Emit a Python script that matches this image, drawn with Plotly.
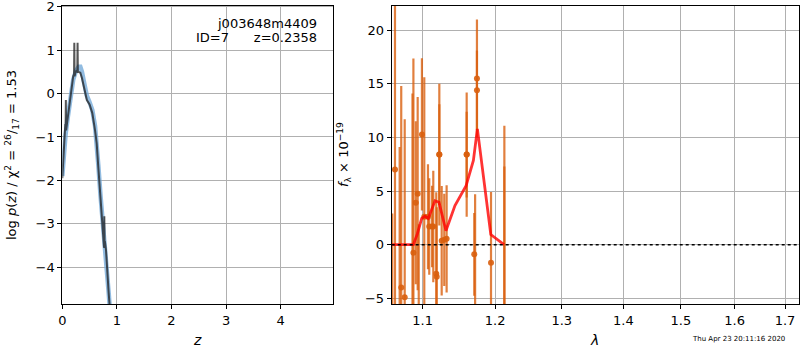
import plotly.graph_objects as go
import math

# ---- Left panel: p(z) ----
z_smooth = [0.00, 0.03, 0.06, 0.10, 0.15, 0.20, 0.25, 0.30, 0.33, 0.36, 0.40, 0.45, 0.50,
            0.55, 0.60, 0.63, 0.66, 0.70, 0.74, 0.78, 0.82, 0.85, 0.88]
logp_smooth = [-1.9, -1.35, -0.95, -0.55, -0.05, 0.32, 0.52, 0.62, 0.62, 0.5, 0.25, -0.05, -0.2,
               -0.38, -0.75, -1.1, -1.65, -2.35, -3.05, -3.55, -4.15, -4.6, -5.1]

z_grid = [0.00, 0.03, 0.05, 0.055, 0.06, 0.065, 0.07, 0.075, 0.09, 0.12, 0.15, 0.18, 0.20,
          0.215, 0.22, 0.225, 0.24, 0.26, 0.275, 0.28, 0.285, 0.30, 0.33, 0.36, 0.40, 0.45,
          0.50, 0.55, 0.60, 0.63, 0.66, 0.70, 0.74, 0.765, 0.77, 0.775, 0.78, 0.80, 0.82, 0.85, 0.88]
logp_grid = [-1.95, -1.35, -1.0, -0.7, -0.85, -0.15, -0.85, -0.8, -0.65, -0.35, 0.0, 0.3, 0.4,
             0.45, 1.17, 0.4, 0.48, 0.52, 0.5, 1.17, 0.5, 0.5, 0.48, 0.36, 0.12, -0.15,
             -0.25, -0.45, -0.85, -1.15, -1.7, -2.4, -3.1, -3.55, -2.83, -3.56, -3.4, -3.6, -4.15, -4.6, -5.1]

# ---- Right panel: spectrum ----
lam_obs = [1.0605, 1.0640, 1.0700, 1.0720, 1.0765, 1.0866, 1.0878, 1.0909, 1.0934, 1.0948,
           1.0990, 1.1021, 1.1070, 1.1087, 1.1125, 1.1141, 1.1181, 1.1187, 1.1222, 1.1222,
           1.1254, 1.1289, 1.1321, 1.1597, 1.1597, 1.1703, 1.1715, 1.1741, 1.1741, 1.1941,
           1.2134, 1.2134]
flux_obs = [-8.5, 7.0, -6.5, -4.0, -4.9, -6.0, -0.75, 3.9, 4.76, -7.0,
            10.28, 2.6, 2.6, 1.7, 1.7, 1.7, -2.7, -3.0, 8.4, 8.4,
            0.36, 0.45, 0.55, 8.4, 8.4, -0.9, -6.0, 15.5, 14.4, -1.68,
            -7.0, -6.0]
err_obs = [11.4, 17.0, 15.6, 18.8, 16.6, 20.1, 18.1, 7.6, 9.0, 8.9,
           7.1, 13.0, 4.9, 4.5, 3.8, 5.2, 7.6, 6.5, 6.6, 4.7,
           5.1, 4.3, 5.0, 5.8, 4.0, 3.85, 10.7, 5.5, 3.7, 6.6,
           18.1, 13.3]

lam_model = [1.0603, 1.0877, 1.0929, 1.0987, 1.1030, 1.1074, 1.1164, 1.1218, 1.1312,
             1.1435, 1.1589, 1.1691, 1.1747, 1.1938, 1.2130]
flux_model = [0.0, 0.0, 1.0, 2.45, 2.65, 2.45, 4.1, 3.95, 1.3,
              3.65, 5.5, 7.85, 10.8, 0.95, 0.0]

zx_ticks = [0, 1, 2, 3, 4]
zy_ticks = [2, 1, 0, -1, -2, -3, -4]
lam_ticks = [1.1, 1.2, 1.3, 1.4, 1.5, 1.6, 1.7]
lam_tick_text = ["1.1", "1.2", "1.3", "1.4", "1.5", "1.6", "1.7"]
f_ticks = [20, 15, 10, 5, 0, -5]

FONT = "DejaVu Sans"
W, H = 800, 350
fig = go.Figure()

fig.add_trace(go.Scatter(x=z_smooth, y=logp_smooth, mode="lines",
                         line=dict(color="rgba(110,165,215,0.75)", width=4.5),
                         xaxis="x", yaxis="y", showlegend=False))
fig.add_trace(go.Scatter(x=z_grid, y=logp_grid, mode="lines",
                         line=dict(color="rgba(30,30,30,0.75)", width=2),
                         xaxis="x", yaxis="y", showlegend=False))

fig.add_trace(go.Scatter(x=lam_obs, y=flux_obs, mode="markers",
                         marker=dict(color="rgba(217,95,14,0.9)", size=6),
                         error_y=dict(type="data", array=err_obs, color="rgba(217,95,14,0.8)",
                                      thickness=2.2, width=0),
                         xaxis="x2", yaxis="y2", showlegend=False))
fig.add_trace(go.Scatter(x=lam_model, y=flux_model, mode="lines",
                         line=dict(color="rgba(255,0,0,0.8)", width=2.8),
                         xaxis="x2", yaxis="y2", showlegend=False))

fig.add_shape(type="line", xref="x2 domain", yref="y2", x0=0, x1=1, y0=0, y1=0,
              line=dict(color="black", width=1.6, dash="dot"))

axis_common = dict(showline=True, linecolor="black", linewidth=1, mirror=True,
                   showgrid=True, gridcolor="#b0b0b0", gridwidth=1,
                   ticks="outside", ticklen=4, tickcolor="black", automargin=False,
                   ticklabeloverflow="allow",
                   tickfont=dict(family=FONT, size=13, color="black"), zeroline=False)

fig.update_layout(
    width=W, height=H,
    margin=dict(l=0, r=0, t=0, b=0, autoexpand=False),
    paper_bgcolor="white", plot_bgcolor="white",
    font=dict(family=FONT, color="black"),
    xaxis=dict(domain=[62.3 / W, 333.3 / W], range=[0, 4.965], tickvals=zx_ticks,
               anchor="y", **axis_common),
    yaxis=dict(domain=[1 - 304 / H, 1 - 5.5 / H], range=[-4.85, 2.03], tickvals=zy_ticks,
               anchor="x", **axis_common),
    xaxis2=dict(domain=[391.7 / W, 799.3 / W], type="log",
                range=[math.log10(1.0598), math.log10(1.7294)],
                tickvals=lam_ticks, ticktext=lam_tick_text, anchor="y2", **axis_common),
    yaxis2=dict(domain=[1 - 304 / H, 1 - 5.5 / H], range=[-5.53, 22.3], tickvals=f_ticks,
                anchor="x2", **axis_common),
)

ann = [
    dict(x=319 / W, y=1 - 23 / H, text="j003648m4409", xanchor="right", yanchor="middle",
         font=dict(size=13)),
    dict(x=319 / W, y=1 - 38 / H, text="ID=7      z=0.2358", xanchor="right",
         yanchor="middle", font=dict(size=13)),
    dict(x=197 / W, y=1 - 340 / H, text="<i>z</i>", xanchor="center", yanchor="middle",
         font=dict(size=14)),
    dict(x=594 / W, y=1 - 340 / H, text="<i>λ</i>", xanchor="center", yanchor="middle",
         font=dict(size=14)),
    dict(x=12 / W, y=1 - 155 / H, textangle=-90, xanchor="center", yanchor="middle",
         text="log <i>p</i>(<i>z</i>) / χ<sup>2</sup> = <sup>26</sup>/<sub>17</sub> = 1.53",
         font=dict(size=13)),
    dict(x=344 / W, y=1 - 155 / H, textangle=-90, xanchor="center", yanchor="middle",
         text="<i>f</i><sub>λ</sub> × 10<sup>−19</sup>", font=dict(size=13)),
    dict(x=787 / W, y=1 - 339 / H, text="Thu Apr 23 20:11:16 2020", xanchor="right",
         yanchor="middle", font=dict(size=7)),
]
for a in ann:
    a.update(xref="paper", yref="paper", showarrow=False)
fig.update_layout(annotations=ann)

fig.write_html("out.html", config={"displayModeBar": False},
               post_script="document.body.style.margin='0';document.body.style.overflow='hidden';")
